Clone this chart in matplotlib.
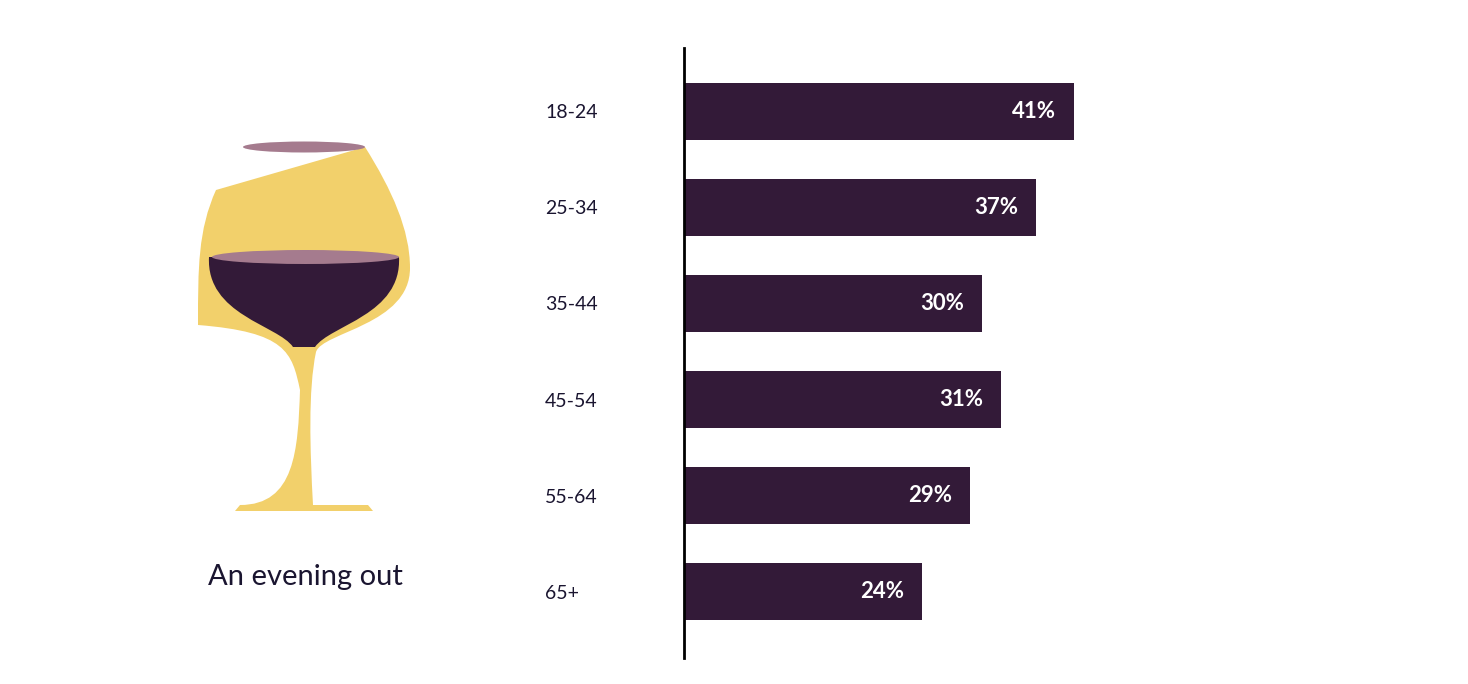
import matplotlib
matplotlib.use("Agg")
import matplotlib.pyplot as plt
from matplotlib.path import Path
from matplotlib.patches import PathPatch, Ellipse

categories = ["18-24", "25-34", "35-44", "45-54", "55-64", "65+"]
bar_lengths = [39.0, 35.2, 29.8, 31.7, 28.6, 23.8]
labels = ["41%", "37%", "30%", "31%", "29%", "24%"]
title = "An evening out"

DARK = "#331A38"
YEL = "#F2D06B"
MAUVE = "#A57B8E"

fig = plt.figure(figsize=(14.68, 6.84), dpi=100)

# glass drawing in pixel space
g = fig.add_axes([0, 0, 1, 1])
g.set_xlim(0, 1468); g.set_ylim(684, 0); g.axis("off")
cx = 304
def mirror_path(right):
    # right: list of (code, x, y) from top rim right to base right
    verts, codes = [], []
    for c, x, y in right:
        verts.append((x, y)); codes.append(c)
    left = [(2 * cx - x, y) for (x, y) in verts[::-1]]
    lcodes = codes[::-1]
    # after reversing, the first entry becomes LINETO connection
    verts2 = verts + left
    codes2 = codes + [Path.LINETO] + lcodes[1:]
    # fix curve groups order: reversing curve4 triplets keeps them valid
    return Path(verts2 + [verts2[0]], codes2 + [Path.CLOSEPOLY])

C = Path.CURVE4; L = Path.LINETO
glass = [(Path.MOVETO, 365, 147),
         (C, 392, 190), (C, 410, 230), (C, 410, 268),
         (C, 410, 325), (C, 322, 332), (C, 316, 352),
         (C, 308, 390), (C, 310, 450), (C, 313, 505),
         (L, 368, 505), (L, 373, 511)]
g.add_patch(PathPatch(mirror_path(glass), fc=YEL, ec="none"))
wine = [(Path.MOVETO, 399, 257),
        (C, 402, 315), (C, 330, 325), (C, 315, 347)]
g.add_patch(PathPatch(mirror_path(wine), fc=DARK, ec="none"))
g.add_patch(Ellipse((305.5, 257), 187, 14, fc=MAUVE, ec="none"))
g.add_patch(Ellipse((304, 147), 122, 11, fc=MAUVE, ec="none"))
g.text(305, 577, title, ha="center", va="center", fontsize=21,
       family="Lato", color="#1a1530")

ax = fig.add_axes([684 / 1468, 26 / 684, 600 / 1468, 610 / 684])
y = list(range(len(categories)))
ax.barh(y, bar_lengths, height=0.594, color=DARK)
for yi, v, t in zip(y, bar_lengths, labels):
    ax.text(v - 1.8, yi, t, ha="right", va="center", color="white",
            fontsize=16, fontweight="bold", family="Lato")
ax.set_xlim(0, 60)
ax.set_ylim(5 + 0.6875, -0.656)
ax.set_yticks(y)
ax.set_yticklabels(categories, fontsize=14, family="Lato", ha="left", color="#1a1530")
ax.tick_params(axis="y", length=0, pad=100)
ax.set_xticks([])
for s in ["top", "right", "bottom"]:
    ax.spines[s].set_visible(False)
ax.spines["left"].set_linewidth(2)
fig.savefig("out.png", dpi=100)
